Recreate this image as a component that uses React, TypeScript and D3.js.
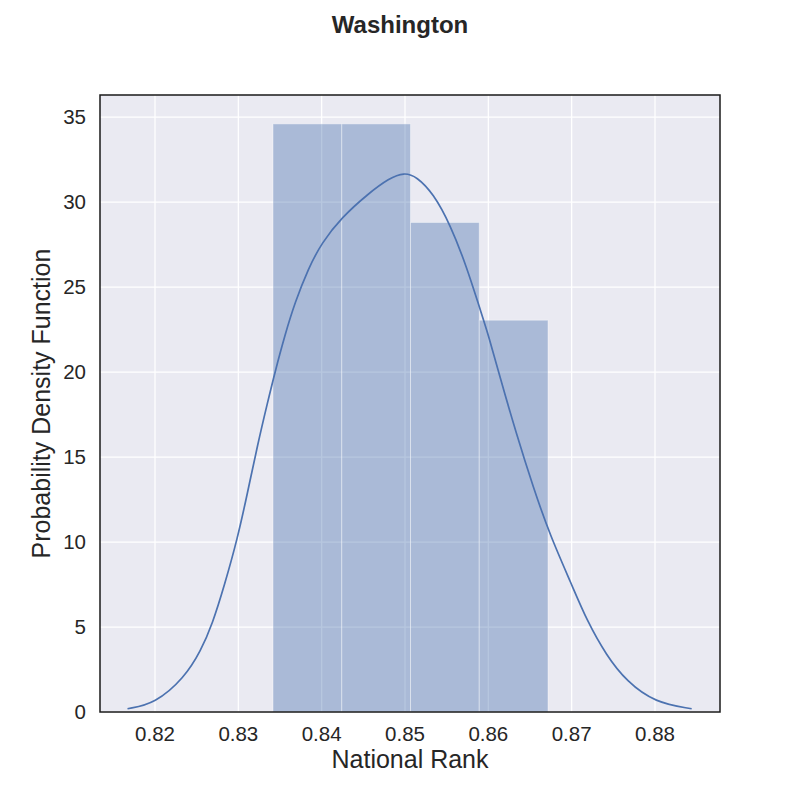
import React from "react";
import * as d3 from "d3";

const title = "Washington";
const xLabel = "National Rank";
const yLabel = "Probability Density Function";

const xTicks = [0.82, 0.83, 0.84, 0.85, 0.86, 0.87, 0.88];
const yTicks = [0, 5, 10, 15, 20, 25, 30, 35];

// histogram bins (edges) and densities
const binEdges = [0.83416, 0.84241, 0.85066, 0.85891, 0.86716];
const binDensity = [34.6, 34.6, 28.8, 23.05];

// KDE curve
const kdeX = [
  0.8167, 0.82, 0.8235, 0.8255, 0.8269, 0.8283, 0.8299, 0.8311, 0.8323, 0.8335,
  0.8344, 0.8356, 0.8368, 0.8384, 0.84, 0.8424, 0.8456, 0.8481, 0.8499, 0.8514,
  0.8534, 0.8554, 0.8574, 0.859, 0.86, 0.8614, 0.8634, 0.8654, 0.8674, 0.87,
  0.8718, 0.8742, 0.8766, 0.88, 0.8844,
];
const kdeY = [
  0.19, 0.5, 2.0, 3.6, 5.2, 7.4, 10.2, 12.9, 15.7, 18.2,
  20.0, 22.2, 24.1, 26.1, 27.6, 29.1, 30.5, 31.4, 31.75, 31.5,
  30.5, 28.7, 26.2, 23.7, 22.2, 19.7, 16.3, 13.2, 10.4, 7.5,
  5.4, 3.3, 1.8, 0.55, 0.19,
];

const W = 800;
const H = 800;
const L = 100;
const R = 720;
const T = 95;
const B = 712;

export default function App() {
  const x = d3.scaleLinear().domain([0.8134, 0.8878]).range([L, R]);
  const y = d3.scaleLinear().domain([0, 36.3]).range([B, T]);
  const color = "#4C72B0";
  const line = d3
    .line<number>()
    .x((_, i) => x(kdeX[i]))
    .y((d) => y(d))
    .curve(d3.curveBasis);
  const font = "'Liberation Sans', Arial, sans-serif";
  return (
    <svg
      width={W}
      height={H}
      style={{ position: "absolute", left: 0, top: 0, background: "#fff" }}
      fontFamily={font}
    >
      <rect x={L} y={T} width={R - L} height={B - T} fill="#EAEAF2" />
      {xTicks.map((t) => (
        <line key={"gx" + t} x1={x(t)} x2={x(t)} y1={T} y2={B} stroke="#fff" strokeWidth={1.25} />
      ))}
      {yTicks.map((t) => (
        <line key={"gy" + t} x1={L} x2={R} y1={y(t)} y2={y(t)} stroke="#fff" strokeWidth={1.25} />
      ))}
      {binDensity.map((d, i) => (
        <rect
          key={"b" + i}
          x={x(binEdges[i])}
          y={y(d)}
          width={x(binEdges[i + 1]) - x(binEdges[i])}
          height={y(0) - y(d)}
          fill={color}
          fillOpacity={0.4}
          stroke="#fff"
          strokeOpacity={0.4}
          strokeWidth={1}
        />
      ))}
      <path d={line(kdeY) || ""} fill="none" stroke={color} strokeWidth={1.7} />
      <rect x={L} y={T} width={R - L} height={B - T} fill="none" stroke="#1a1a1a" strokeWidth={1.5} />
      {xTicks.map((t) => (
        <text key={"tx" + t} x={x(t)} y={741} textAnchor="middle" fontSize={20.5} fill="#262626">
          {t.toFixed(2)}
        </text>
      ))}
      {yTicks.map((t) => (
        <text key={"ty" + t} x={86} y={y(t)} dy="0.36em" textAnchor="end" fontSize={20.5} fill="#262626">
          {t}
        </text>
      ))}
      <text x={(L + R) / 2} y={768} textAnchor="middle" fontSize={25} fill="#262626">
        {xLabel}
      </text>
      <text
        transform={`translate(50, ${(T + B) / 2}) rotate(-90)`}
        textAnchor="middle"
        fontSize={25}
        fill="#262626"
      >
        {yLabel}
      </text>
      <text x={400} y={33} textAnchor="middle" fontSize={24} fontWeight="bold" fill="#262626">
        {title}
      </text>
    </svg>
  );
}
